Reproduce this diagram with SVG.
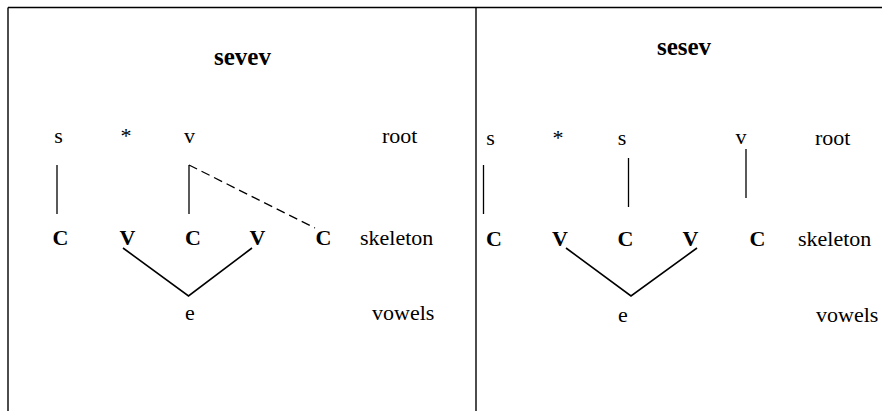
<svg xmlns="http://www.w3.org/2000/svg" width="882" height="411" viewBox="0 0 882 411">
<style>
text{font-family:"Liberation Serif","Times New Roman",serif;font-size:22px;fill:#000;text-anchor:middle}
.t{font-weight:bold;font-size:25px}
.b{font-weight:bold}
.l{text-anchor:start}
.frame{stroke:#000;stroke-width:1.4;fill:none}
.v{stroke:#000;stroke-width:1.3;fill:none}
.assoc{stroke:#000;stroke-width:1.6;fill:none}
.dash{stroke:#000;stroke-width:1.3;fill:none;stroke-dasharray:9 5}
</style>
<rect width="882" height="411" fill="#fff"/>
<g id="frame">
<line class="frame" x1="8" y1="7.5" x2="882" y2="7.5"/>
<line class="frame" x1="8" y1="7.5" x2="8" y2="411"/>
<line class="frame" x1="476" y1="7.5" x2="476" y2="411"/>
</g>
<g id="left-panel">
<g id="title-sevev"><text class="t" x="242.5" y="65">sevev</text></g>
<g id="l-root-s"><text x="58.5" y="143">s</text></g>
<g id="l-root-star"><text x="126" y="143">*</text></g>
<g id="l-root-v"><text x="189.5" y="143">v</text></g>
<g id="l-label-root"><text class="l" x="382" y="143">root</text></g>
<g id="l-C1"><text class="b" x="60.5" y="245">C</text></g>
<g id="l-V1"><text class="b" x="127.5" y="245">V</text></g>
<g id="l-C2"><text class="b" x="193" y="245">C</text></g>
<g id="l-V2"><text class="b" x="257.5" y="245">V</text></g>
<g id="l-C3"><text class="b" x="323.5" y="245">C</text></g>
<g id="l-label-skeleton"><text class="l" x="360" y="245">skeleton</text></g>
<g id="l-e"><text x="190" y="320">e</text></g>
<g id="l-label-vowels"><text class="l" x="372" y="320">vowels</text></g>
</g>
<g id="right-panel">
<g id="title-sesev"><text class="t" x="684" y="55">sesev</text></g>
<g id="r-root-s1"><text x="490.5" y="145">s</text></g>
<g id="r-root-star"><text x="558" y="145">*</text></g>
<g id="r-root-s2"><text x="622" y="145">s</text></g>
<g id="r-root-v"><text x="741" y="144">v</text></g>
<g id="r-label-root"><text class="l" x="815" y="145">root</text></g>
<g id="r-C1"><text class="b" x="494" y="245.5">C</text></g>
<g id="r-V1"><text class="b" x="560" y="245.5">V</text></g>
<g id="r-C2"><text class="b" x="625.5" y="245.5">C</text></g>
<g id="r-V2"><text class="b" x="690.5" y="245.5">V</text></g>
<g id="r-C3"><text class="b" x="757.5" y="245.5">C</text></g>
<g id="r-label-skeleton"><text class="l" x="798" y="245.5">skeleton</text></g>
<g id="r-e"><text x="623" y="321.5">e</text></g>
<g id="r-label-vowels"><text class="l" x="816" y="321.5">vowels</text></g>
</g>
<g id="connectors">
<line class="v" x1="57" y1="165" x2="57" y2="214"/>
<line class="v" x1="189" y1="165" x2="189" y2="214"/>
<line class="dash" x1="189" y1="165" x2="315" y2="228"/>
<polyline class="assoc" points="123,248 188.5,296 252,248"/>
<line class="v" x1="483.5" y1="165" x2="483.5" y2="214"/>
<line class="v" x1="628.5" y1="158" x2="628.5" y2="207"/>
<line class="v" x1="746" y1="149" x2="746" y2="198"/>
<polyline class="assoc" points="566,248 631,296 697,248"/>
</g>
</svg>
